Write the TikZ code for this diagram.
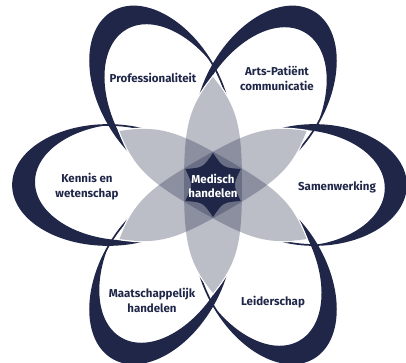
\documentclass[tikz,border=0pt]{standalone}
\usepackage{fontspec}
\setmainfont{Fira Sans}
\definecolor{navy}{RGB}{31,38,72}
\tikzset{
  lab/.style={text=navy, font=\bfseries\fontsize{11.5}{15}\selectfont, align=center, inner sep=0pt},
  midlab/.style={text=white, font=\bfseries\fontsize{11.5}{14}\selectfont, align=center, inner sep=0pt},
  petalline/.style={draw=navy, line width=1.7pt},
}
\begin{document}
\begin{tikzpicture}[x=1pt,y=1pt]
\useasboundingbox (-213,-178) rectangle (193,185);
\clip (-213,-178) rectangle (193,185);
% crescents
\foreach \a/\s in {0/0.965,60/1,120/1,180/1,240/1,300/1} {
  \begin{scope}[rotate=\a, xscale=\s]
    \begin{scope}
      \clip (105,0) ellipse [x radius=95, y radius=60];
      \fill[navy,even odd rule] (-10,-100) rectangle (220,100)
        (84,-3) ellipse [x radius=94, y radius=58.5];
    \end{scope}
  \end{scope}
}
% outlines
\foreach \a/\s in {0/0.965,60/1,120/1,180/1,240/1,300/1} {
  \path[petalline, rotate=\a, xscale=\s] (105,0) ellipse [x radius=95, y radius=60];
}
% lenses: white base
\foreach \a in {0,60,120} {
  \path[fill=white, draw=white, line width=2.5pt, rotate=\a] (0,108) .. controls (24,78) and (29,60) .. (29,0) .. controls (29,-60) and (24,-78) .. (0,-108) .. controls (-24,-78) and (-29,-60) .. (-29,0) .. controls (-29,60) and (-24,78) .. (0,108) -- cycle;
}
\foreach \a in {0,60,120} {
  \path[fill=navy, fill opacity=0.3, rotate=\a] (0,108) .. controls (24,78) and (29,60) .. (29,0) .. controls (29,-60) and (24,-78) .. (0,-108) .. controls (-24,-78) and (-29,-60) .. (-29,0) .. controls (-29,60) and (-24,78) .. (0,108) -- cycle;
}
% star
\fill[navy] (90:32) .. controls (120:20) .. (150:32) .. controls (180:20) .. (210:32) .. controls (240:20) .. (270:32) .. controls (300:20) .. (330:32) .. controls (0:20) .. (30:32) .. controls (60:20) .. (90:32) -- cycle;
% labels
\node[lab] (prof) at (-60,107) {Professionaliteit};
\node[lab] (arts) at (64,107) {Arts-Patiënt\\communicatie};
\node[lab] (kennis) at (-126,-2) {Kennis en\\wetenschap};
\node[lab] (samen) at (124,-2) {Samenwerking};
\node[lab] (maats) at (-61,-115) {Maatschappelijk\\handelen};
\node[lab] (leider) at (60,-117) {Leiderschap};
\node[midlab] (med) at (0,-1) {Medisch\\handelen};
\end{tikzpicture}
\end{document}
